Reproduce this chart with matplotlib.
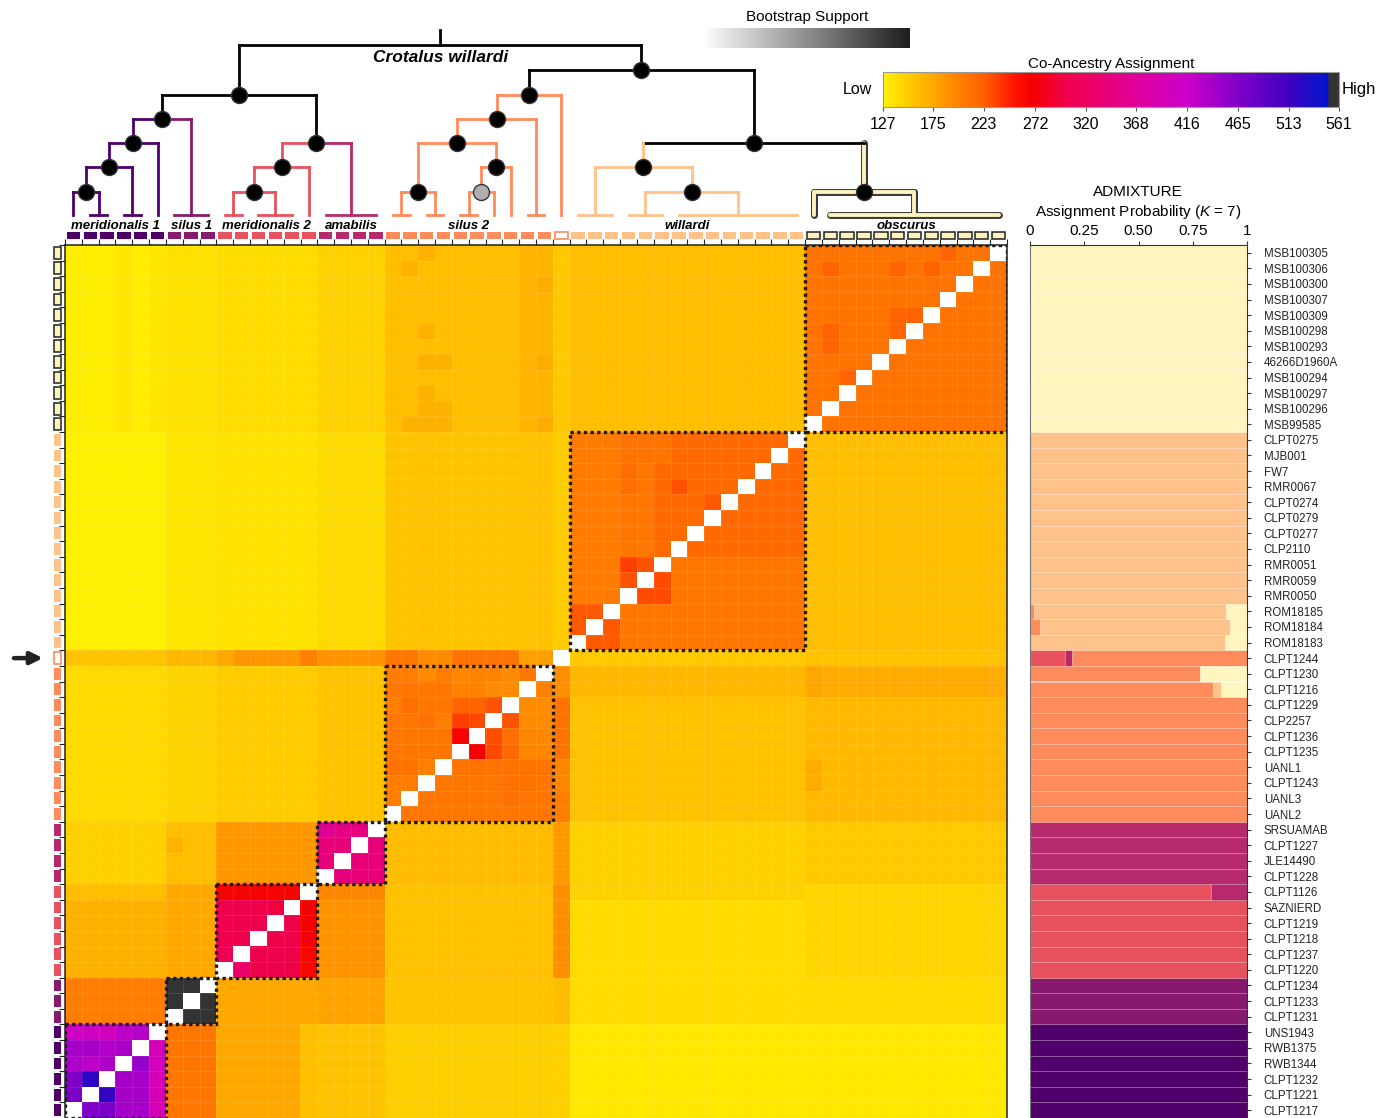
import matplotlib
matplotlib.use('Agg')
import matplotlib.pyplot as plt
import numpy as np
from matplotlib.colors import LinearSegmentedColormap
from matplotlib.patches import Rectangle

plt.rcParams['font.family'] = ['Liberation Sans', 'DejaVu Sans']
plt.rcParams['mathtext.fontset'] = 'custom'
plt.rcParams['mathtext.it'] = 'Liberation Sans:italic'
plt.rcParams['mathtext.rm'] = 'Liberation Sans'

# samples, top to bottom (columns run the other way)
sample_ids = ['MSB100305', 'MSB100306', 'MSB100300', 'MSB100307', 'MSB100309', 'MSB100298',
              'MSB100293', '46266D1960A', 'MSB100294', 'MSB100297', 'MSB100296', 'MSB99585',
              'CLPT0275', 'MJB001', 'FW7', 'RMR0067', 'CLPT0274', 'CLPT0279', 'CLPT0277',
              'CLP2110', 'RMR0051', 'RMR0059', 'RMR0050', 'ROM18185', 'ROM18184', 'ROM18183',
              'CLPT1244',
              'CLPT1230', 'CLPT1216', 'CLPT1229', 'CLP2257', 'CLPT1236', 'CLPT1235', 'UANL1',
              'CLPT1243', 'UANL3', 'UANL2',
              'SRSUAMAB', 'CLPT1227', 'JLE14490', 'CLPT1228',
              'CLPT1126', 'SAZNIERD', 'CLPT1219', 'CLPT1218', 'CLPT1237', 'CLPT1220',
              'CLPT1234', 'CLPT1233', 'CLPT1231',
              'UNS1943', 'RWB1375', 'RWB1344', 'CLPT1232', 'CLPT1221', 'CLPT1217']
groups = ['obscurus', 'willardi', 'CLPT1244', 'silus 2', 'amabilis',
          'meridionalis 2', 'silus 1', 'meridionalis 1']
group_sizes = [12, 14, 1, 10, 4, 6, 3, 6]
group_colors = ['#FEF3BC', '#FEC28A', '#FE8B5C', '#FE8B5C', '#B62A6C',
                '#E8525F', '#861A6E', '#4E0068']

# mean co-ancestry: row group (top->bottom) x column group
# columns: merid1, silus1, merid2, amabilis, silus2, CLPT1244, willardi, obscurus
block_means = [
    [130, 138, 140, 147, 160, 153, 160, 208],
    [129, 134, 137, 142, 155, 150, 205, 159],
    [156, 164, 186, 188, 200, np.nan, 152, 156],
    [142, 146, 150, 156, 205, 200, 158, 163],
    [148, 160, 185, 340, 161, 183, 148, 152],
    [169, 174, 300, 188, 158, 190, 141, 144],
    [200, 556, 175, 178, 156, 161, 141, 142],
    [430, 205, 175, 157, 149, 148, 133, 133],
]

# areas differing from the block mean: (row0, row1, col0, col1, value)
patches = [
    (0, 12, 3, 4, 135), (0, 12, 5, 6, 134), (0, 12, 27, 29, 166),
    (0, 1, 21, 22, 169), (1, 2, 20, 21, 169), (5, 6, 21, 22, 169), (7, 8, 21, 23, 169),
    (9, 10, 21, 22, 169), (10, 12, 21, 23, 169), (11, 12, 20, 21, 169),
    (2, 3, 28, 29, 172), (7, 8, 28, 29, 172), (11, 12, 28, 29, 172),
    (0, 1, 52, 53, 220), (1, 2, 45, 46, 220), (1, 2, 49, 50, 220), (1, 2, 51, 52, 220),
    (4, 5, 49, 51, 220), (5, 6, 49, 50, 220), (5, 7, 45, 46, 220), (8, 9, 46, 47, 220),
    (12, 26, 21, 22, 158), (12, 26, 27, 29, 158),
    (12, 20, 36, 44, 216), (14, 20, 35, 36, 216), (14, 16, 33, 34, 212), (12, 14, 33, 36, 208),
    (15, 16, 36, 37, 228), (16, 17, 38, 39, 226),
    (20, 21, 33, 34, 236), (20, 21, 34, 35, 228), (21, 22, 33, 34, 228),
    (21, 22, 35, 36, 231), (22, 23, 34, 36, 231),
    (12, 23, 30, 33, 201), (23, 26, 30, 33, 226),
    (26, 27, 9, 10, 175), (26, 27, 10, 14, 185), (26, 27, 14, 15, 199),
    (26, 27, 19, 21, 205), (26, 27, 21, 23, 192), (26, 27, 23, 27, 208), (26, 27, 27, 29, 180),
    (27, 29, 29, 30, 190), (29, 33, 29, 30, 208), (33, 35, 29, 30, 195),
    (27, 29, 30, 44, 164), (27, 29, 44, 56, 172), (27, 29, 44, 45, 176), (33, 35, 44, 45, 172),
    (41, 42, 0, 6, 160), (41, 42, 15, 19, 194), (41, 42, 30, 44, 147),
    (38, 39, 6, 7, 168), (50, 56, 14, 15, 160),
]

silus2_block = [
    [200, 200, 192, 200, 194, 197, 197, 192, 205, np.nan],
    [205, 205, 205, 205, 197, 197, 192, 192, np.nan, 199],
    [199, 212, 205, 205, 220, 220, 228, np.nan, 192, 192],
    [205, 205, 210, 200, 236, 232, np.nan, 228, 192, 192],
    [205, 205, 205, 205, 266, np.nan, 230, 212, 194, 194],
    [205, 205, 205, 205, np.nan, 268, 232, 216, 194, 194],
    [210, 210, 199, np.nan, 208, 208, 208, 208, 208, 208],
    [200, 200, np.nan, 205, 205, 205, 205, 210, 210, 205],
    [200, np.nan, 205, 205, 205, 205, 205, 210, 205, 205],
    [np.nan, 205, 205, 205, 205, 205, 205, 205, 205, 205],
]
amabilis_block = [
    [365, 350, 345, np.nan],
    [340, 340, np.nan, 340],
    [340, np.nan, 340, 340],
    [np.nan, 340, 340, 340],
]
merid2_block = [
    [265, 265, 265, 265, 265, np.nan],
    [305, 305, 305, 298, np.nan, 268],
    [305, 305, 305, np.nan, 302, 268],
    [305, 305, np.nan, 302, 302, 272],
    [310, np.nan, 302, 302, 302, 262],
    [np.nan, 325, 302, 302, 302, 262],
]
merid1_block = [
    [410, 410, 400, 425, 430, np.nan],
    [440, 440, 432, 436, np.nan, 400],
    [436, 425, 436, np.nan, 450, 400],
    [465, 525, np.nan, 440, 440, 395],
    [470, np.nan, 520, 440, 440, 395],
    [np.nan, 465, 468, 440, 440, 395],
]
own_blocks = {'silus 2': silus2_block, 'amabilis': amabilis_block,
              'meridionalis 2': merid2_block, 'meridionalis 1': merid1_block}

# ADMIXTURE K = 7
admix_clusters = ['meridionalis 1', 'silus 1', 'meridionalis 2', 'amabilis',
                  'silus 2', 'willardi', 'obscurus']
admix_colors = ['#50006A', '#871A6E', '#E8525F', '#B62A6C', '#FE8B5C', '#FEC28A', '#FEF5BF']
admix_mixed = {
    'ROM18185': {'silus 2': 0.02, 'willardi': 0.885, 'obscurus': 0.095},
    'ROM18184': {'silus 2': 0.045, 'willardi': 0.875, 'obscurus': 0.08},
    'ROM18183': {'willardi': 0.90, 'obscurus': 0.10},
    'CLPT1244': {'meridionalis 2': 0.16, 'amabilis': 0.035, 'silus 2': 0.805},
    'CLPT1230': {'silus 2': 0.785, 'obscurus': 0.215},
    'CLPT1216': {'silus 2': 0.845, 'willardi': 0.035, 'obscurus': 0.12},
    'CLPT1126': {'meridionalis 2': 0.835, 'amabilis': 0.165},
}

# tree over the columns: internal node -> (rank, children); leaves are column tuples
tree_nodes = {
    'root': (0, ['A', 'I']),
    'A': (2, ['B', 'F']),
    'B': (3, ['C', (6, 7, 8)]),
    'C': (4, ['D', (5,)]),
    'D': (5, ['E', (3, 4)]),
    'E': (6, [(0,), (1, 2)]),
    'F': (4, ['G', (15, 16, 17, 18)]),
    'G': (5, ['H', (14,)]),
    'H': (6, [(9, 10), (11, 12, 13)]),
    'I': (1, ['J', 'P']),
    'J': (2, ['K', (29,)]),
    'K': (3, ['L', (27, 28)]),
    'L': (4, ['M', 'O']),
    'M': (6, [(19, 20), (21, 22)]),
    'O': (5, ['N', (26,)]),
    'N': (6, [(23, 24), (25,)]),
    'P': (4, ['Q', 'S']),
    'Q': (5, [(30, 31, 32), 'R']),
    'R': (6, [(33, 34, 35), tuple(range(36, 44))]),
    'S': (6, [(44,), tuple(range(45, 56))]),
}

# ---- build the matrix ----
n = len(sample_ids)
ng = len(groups)
row_start = np.cumsum([0] + group_sizes[:-1])
col_sizes = group_sizes[::-1]
col_start = np.cumsum([0] + col_sizes[:-1])

D = np.zeros((n, n))
for gi in range(ng):
    for gj in range(ng):
        D[row_start[gi]:row_start[gi] + group_sizes[gi],
          col_start[gj]:col_start[gj] + col_sizes[gj]] = block_means[gi][gj]
for r0, r1, c0, c1, v in patches:
    D[r0:r1, c0:c1] = v
for g, blk in own_blocks.items():
    gi = groups.index(g)
    r0, c0, k = row_start[gi], col_start[ng - 1 - gi], group_sizes[gi]
    D[r0:r0 + k, c0:c0 + k] = np.array(blk)
D[np.fliplr(np.eye(n, dtype=bool))] = np.nan

row_group = np.repeat(np.arange(ng), group_sizes)
col_group = row_group[::-1]

cmap_values = [127, 150, 175, 200, 223, 250, 268, 300, 340, 380, 416, 465, 513, 545, 551, 552, 561]
cmap_hex = ['#FFF200', '#FFCC00', '#FFA800', '#FF7E00', '#FF6000', '#FF1800', '#F50000',
            '#F00048', '#E8007A', '#DC00A8', '#CC00C8', '#8000C8', '#4000C0', '#0A14CC',
            '#0010D0', '#333333', '#333333']
vmin, vmax = 127, 561
pos = [(v - vmin) / (vmax - vmin) for v in cmap_values]
coanc_cmap = LinearSegmentedColormap.from_list('coanc', list(zip(pos, cmap_hex)), N=512)
coanc_cmap.set_bad('white')

W, H = 1389, 1118
fig = plt.figure(figsize=(W / 100, H / 100), dpi=100)


def px_axes(x0, y0, x1, y1):
    return fig.add_axes([x0 / W, 1 - y1 / H, (x1 - x0) / W, (y1 - y0) / H])


# ---- heatmap ----
ax = px_axes(65, 245, 1007, 1118)
im = ax.imshow(D, cmap=coanc_cmap, vmin=vmin, vmax=vmax, extent=(0, n, n, 0),
               aspect='auto', interpolation='nearest')
for i in range(1, n):
    ax.axhline(i, color='white', lw=0.5, alpha=0.13)
    ax.axvline(i, color='white', lw=0.5, alpha=0.13)
for gi in range(ng):
    k = group_sizes[gi]
    if k > 1:
        ax.add_patch(Rectangle((col_start[ng - 1 - gi], row_start[gi]), k, k, fill=False,
                               ec='#1a1a1a', lw=2.4, ls=(0, (1, 1)), zorder=5))
ax.set_xlim(0, n)
ax.set_ylim(n, 0)
ax.set_xticks(np.arange(n + 1))
ax.set_yticks(np.arange(n + 1))
ax.tick_params(axis='x', top=True, bottom=False, labeltop=False, labelbottom=False,
               length=4, width=0.8, color='#222')
ax.tick_params(axis='y', left=True, right=False, labelleft=False, length=4, width=0.8,
               color='#222')
for side in ['top', 'left', 'right']:
    ax.spines[side].set_color('#222')
    ax.spines[side].set_linewidth(1.1)
ax.spines['bottom'].set_visible(False)

# row markers on the left
for r in range(n):
    g = row_group[r]
    if groups[g] == 'obscurus':
        fc, ec, lw = group_colors[g], '#222', 1.1
    elif groups[g] == 'CLPT1244':
        fc, ec, lw = 'white', group_colors[g], 1.2
    else:
        fc, ec, lw = group_colors[g], 'none', 0
    ax.add_patch(Rectangle((-0.66, r + 0.12), 0.42, 0.76, fc=fc, ec=ec, lw=lw, clip_on=False))

ax.annotate('', xy=(-1.15, 26.5), xytext=(-3.2, 26.5), annotation_clip=False,
            arrowprops=dict(arrowstyle='-|>', color='#222', lw=3.2, mutation_scale=18))

# ---- tree ----
tax = px_axes(65, 0, 1007, 245)
tax.set_xlim(0, n)
tax.set_ylim(245, 0)
tax.axis('off')
rank_y = [45, 70, 95, 119, 143, 167, 192]
leaf_y, stub_top = 215, 30
obs_fill = '#FEF3BC'
clade = {g: c for g, c in zip(groups, group_colors)}
node_colors = {
    'A': ('k', 'k'), 'B': ('k', 'k'), 'F': ('k', 'k'), 'I': ('k', 'k'), 'J': ('k', 'k'),
    'P': ('k', 'k'), 'Q': ('k', clade['willardi']), 'S': ('k', 'outline'),
    'C': (clade['meridionalis 1'],) * 2, 'D': (clade['meridionalis 1'],) * 2,
    'E': (clade['meridionalis 1'],) * 2,
    'G': (clade['meridionalis 2'],) * 2, 'H': (clade['meridionalis 2'],) * 2,
    'K': (clade['silus 2'],) * 2, 'L': (clade['silus 2'],) * 2, 'M': (clade['silus 2'],) * 2,
    'N': (clade['silus 2'],) * 2, 'O': (clade['silus 2'],) * 2,
    'R': (clade['willardi'],) * 2,
}


def node_x(node):
    if isinstance(node, tuple):
        return np.mean(node) + 0.5
    kids = tree_nodes[node][1]
    return (node_x(kids[0]) + node_x(kids[-1])) / 2


def node_y(node):
    return leaf_y if isinstance(node, tuple) else rank_y[tree_nodes[node][0]]


def leaf_color(cols):
    g = groups[col_group[cols[0]]]
    return 'outline' if g == 'obscurus' else clade[g]


def seg(xs, ys, color):
    if color == 'outline':
        tax.plot(xs, ys, color='#3a3a3a', lw=5.0, solid_capstyle='round', zorder=2)
        tax.plot(xs, ys, color=obs_fill, lw=2.8, solid_capstyle='round', zorder=3)
    else:
        tax.plot(xs, ys, color=color, lw=2.0, solid_capstyle='projecting', zorder=4)


def draw(node):
    x, y = node_x(node), node_y(node)
    for kid in tree_nodes[node][1]:
        kx, ky = node_x(kid), node_y(kid)
        if isinstance(kid, tuple):
            arm = stem = leaf_color(kid)
        else:
            arm, stem = node_colors[kid]
        seg([x, kx], [y, y], arm)
        seg([kx, kx], [y, ky], stem)
        if isinstance(kid, tuple):
            if len(kid) > 1:
                seg([kid[0] + 0.5, kid[-1] + 0.5], [leaf_y, leaf_y], stem)
        else:
            draw(kid)
    if node != 'root':
        fc = '#AFAFAF' if node == 'N' else 'k'
        tax.plot(x, y, 'o', ms=11.5, mfc=fc, mec='#333', mew=1.0, zorder=6)


root_x = node_x('root')
seg([root_x, root_x], [stub_top, rank_y[0]], 'k')
draw('root')
tax.text(root_x, 57, 'Crotalus willardi', ha='center', va='center', fontsize=12.5,
         fontweight='bold', style='italic')

for gi in range(ng):
    c0 = col_start[ng - 1 - gi]
    k = group_sizes[gi]
    if groups[gi] != 'CLPT1244':
        tax.text(c0 + k / 2, 226, groups[gi], ha='center', va='center', fontsize=9.5,
                 fontweight='bold', style='italic')
for c in range(n):
    g = col_group[c]
    if groups[g] == 'obscurus':
        fc, ec, lw = group_colors[g], '#222', 1.1
    elif groups[g] == 'CLPT1244':
        fc, ec, lw = 'white', group_colors[g], 1.2
    else:
        fc, ec, lw = group_colors[g], 'none', 0
    tax.add_patch(Rectangle((c + 0.1, 232), 0.8, 7, fc=fc, ec=ec, lw=lw, clip_on=False))

# ---- ADMIXTURE bars ----
Q = np.zeros((n, len(admix_clusters)))
for r, sid in enumerate(sample_ids):
    if sid in admix_mixed:
        for cl, p in admix_mixed[sid].items():
            Q[r, admix_clusters.index(cl)] = p
    else:
        Q[r, admix_clusters.index(groups[row_group[r]])] = 1.0

aax = px_axes(1030, 245, 1247, 1118)
left = np.zeros(n)
for k, col in enumerate(admix_colors):
    aax.barh(np.arange(n) + 0.5, Q[:, k], left=left, height=1.0, color=col,
             edgecolor=(1, 1, 1, 0.15), linewidth=0.5)
    left += Q[:, k]
aax.set_xlim(0, 1)
aax.set_ylim(n, 0)
aax.xaxis.tick_top()
aax.set_xticks([0, 0.25, 0.5, 0.75, 1])
aax.set_xticklabels(['0', '0.25', '0.50', '0.75', '1'], fontsize=11)
aax.tick_params(axis='x', length=3, pad=2, color='#333')
aax.yaxis.tick_right()
aax.set_yticks(np.arange(n) + 0.5)
aax.set_yticklabels(sample_ids, fontsize=8.3, color='#222')
aax.tick_params(axis='y', length=3, pad=9, color='#333')
aax.spines['bottom'].set_visible(False)
aax.spines['left'].set_color('#777')
for side in ['top', 'right']:
    aax.spines[side].set_color('#333')
fig.text(1138 / W, 1 - 192 / H, 'ADMIXTURE', ha='center', va='center', fontsize=11)
fig.text(1138 / W, 1 - 212 / H, r'Assignment Probability ($\mathit{K}$ = 7)',
         ha='center', va='center', fontsize=11)

# ---- legends ----
bax = px_axes(703, 28, 910, 48)
boot_cmap = LinearSegmentedColormap.from_list('boot', ['#FFFFFF', '#1E1E1E'])
bax.imshow(np.linspace(0, 1, 256)[None, :], cmap=boot_cmap, aspect='auto', extent=(0, 1, 0, 1))
bax.axis('off')
fig.text(807 / W, 1 - 17 / H, 'Bootstrap Support', ha='center', va='center', fontsize=11)

cax = px_axes(883, 72, 1339, 107)
cb = fig.colorbar(im, cax=cax, orientation='horizontal',
                  ticks=[127, 175, 223, 272, 320, 368, 416, 465, 513, 561])
cb.outline.set_edgecolor('#999')
cb.outline.set_linewidth(0.8)
cax.tick_params(labelsize=11.5, length=3, color='#555', pad=4)
cax.set_title('Co-Ancestry Assignment', fontsize=11, pad=3)
cax.text(-0.025, 0.5, 'Low', transform=cax.transAxes, ha='right', va='center', fontsize=11.5)
cax.text(1.005, 0.5, 'High', transform=cax.transAxes, ha='left', va='center', fontsize=12)

fig.savefig('out.png', dpi=100)
